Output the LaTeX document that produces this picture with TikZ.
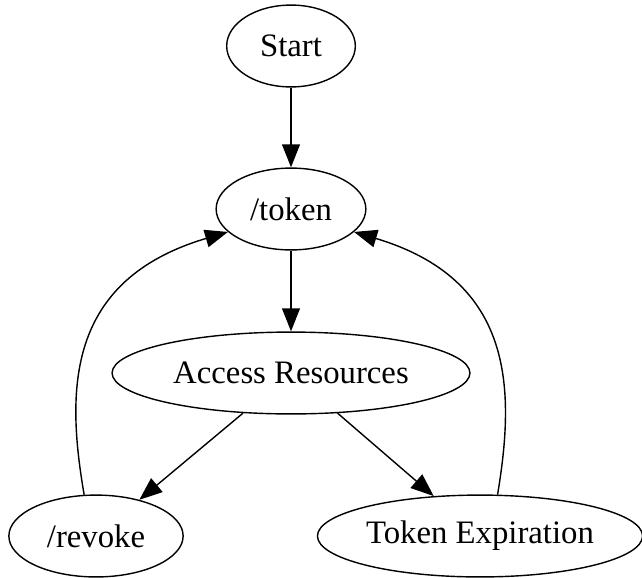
\documentclass[tikz,border=0pt]{standalone}
\usepackage{fontspec}
\setmainfont{Liberation Serif}
\usetikzlibrary{shapes.geometric, arrows.meta}

\begin{document}
\begin{tikzpicture}[
		x=0.4275pt, y=-0.4275pt,
		font=\fontsize{14pt}{16pt}\selectfont,
		% Style for the ellipse states
		stage/.style={ellipse, draw, line width=0.6pt, inner sep=0pt, minimum height=35pt},
		% Style for the connectors
		flow arrow/.style={-{Triangle[length=9.8pt, width=7.6pt]}, line width=0.6pt}
		]
		
		\useasboundingbox (0, 0) rectangle (642, 577);
		
		% --- Nodes ---
		\node[stage, minimum width=55pt] (start) at (291, 46) {Start};
		\node[stage, minimum width=64pt] (token) at (291, 209) {/token};
		\node[stage, minimum width=153pt] (access) at (291, 373) {Access Resources};
		\node[stage, minimum width=74.5pt] (revoke) at (96, 536) {/revoke};
		\node[stage, minimum width=139pt] (expire) at (480, 536) {Token Expiration};
		
		% --- Straight edges ---
		\draw[flow arrow] (start) -- (token);
		\draw[flow arrow] (token) -- (access);
		\draw[flow arrow] (access) -- (revoke);
		\draw[flow arrow] (access) -- (expire);
		
		% --- Back edges to /token ---
		\draw[flow arrow] (revoke.106) .. controls (66, 390) and (66, 280) .. (token.200);
		\draw[flow arrow] (expire.67) .. controls (515, 390) and (515, 280) .. (token.340);
		
	\end{tikzpicture}
\end{document}
